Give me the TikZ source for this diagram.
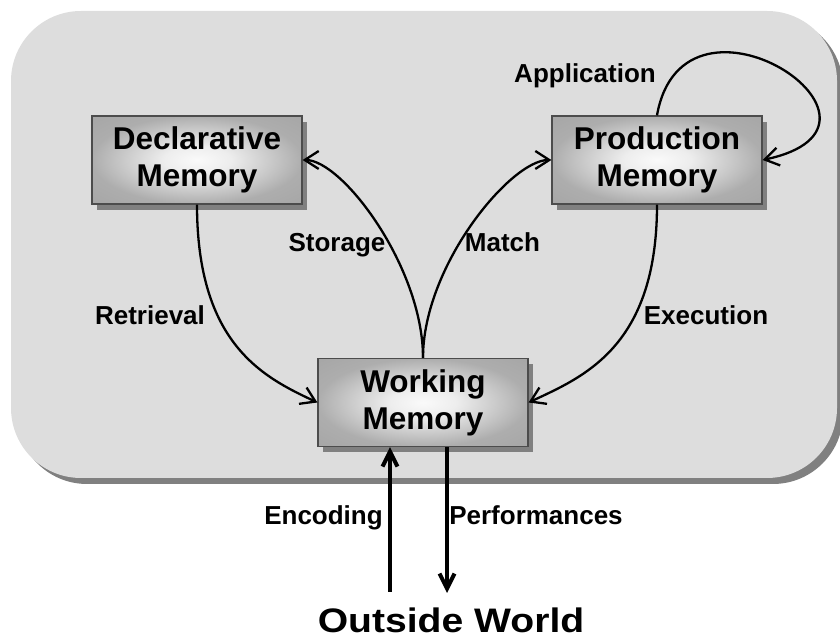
\documentclass[tikz,border=0pt]{standalone}
\usepackage{fontspec}
\setmainfont{Liberation Sans}
\usetikzlibrary{arrows.meta,shadows}
\pgfdeclareradialshading{memshade}{\pgfpoint{0bp}{0bp}}{color(0bp)=(gray!4); color(8bp)=(gray!14); color(25bp)=(gray!64); color(36bp)=(gray!70); color(50bp)=(gray!70)}
\begin{document}
\begin{tikzpicture}[x=1pt,y=1pt,
  mem/.style={rectangle,draw=black!70,line width=1.2pt,shading=memshade,
    minimum width=210pt,minimum height=88pt,align=center,
    font=\fontsize{31.5}{37}\selectfont\bfseries,
    general shadow={fill=black!50,shadow xshift=5pt,shadow yshift=-6pt}},
  arc/.style={line width=2.3pt,-{Straight Barb[length=14pt,width=18pt]}},
  io/.style={line width=4pt,-{Straight Barb[length=15pt,width=15pt]}},
  lbl/.style={anchor=base,font=\fontsize{26}{30}\selectfont\bfseries}]
\useasboundingbox (0,0) rectangle (840,639);

% background
\fill[black!50,rounded corners=70pt] (17,155) rectangle (843,622);
\fill[gray!27,rounded corners=70pt] (11,161) rectangle (837,628);

\node[mem] (decl) at (197,479) {Declarative\\Memory};
\node[mem] (prod) at (657,479) {Production\\Memory};
\node[mem] (work) at (423,236.5) {Working\\Memory};

\draw[arc] (work.north) to[out=90,in=0,out looseness=1,in looseness=0.44] (decl.east);
\draw[arc] (work.north) to[out=90,in=180,out looseness=1,in looseness=0.44] (prod.west);
\draw[arc] (decl.south) to[out=-90,in=155,out looseness=1.54,in looseness=0.66] (work.west);
\draw[arc] (prod.south) to[out=-90,in=25,out looseness=1.54,in looseness=0.66] (work.east);
\draw[arc] (prod.north) to[out=80,in=12,out looseness=3.4,in looseness=3.7] (prod.east);

\coordinate (enc) at (390,47);
\coordinate (perf) at (447,46);
\draw[io] (enc) -- (enc |- work.south);
\draw[io] (perf |- work.south) -- (perf);

\node[lbl] (storage) at (337,387) {Storage};
\node[lbl] (match) at (502.5,387) {Match};
\node[lbl] (retrieval) at (150,314) {Retrieval};
\node[lbl] (execution) at (706,314) {Execution};
\node[lbl] (application) at (585,556) {Application};
\node[lbl] (encoding) at (323.5,114) {Encoding};
\node[lbl] (performances) at (536,114) {Performances};
\node[lbl,font=\fontsize{34}{40}\selectfont\bfseries] (world) at (451,6) {\scalebox{1.15}[1]{Outside World}};
\end{tikzpicture}
\end{document}
